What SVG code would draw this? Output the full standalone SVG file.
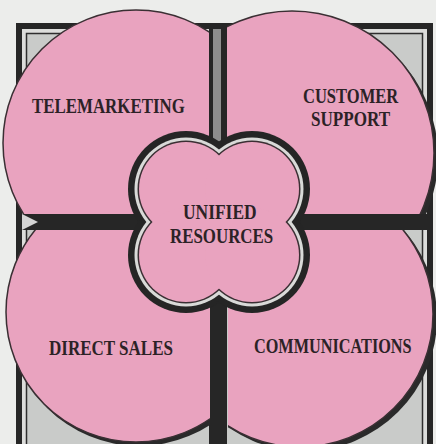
<svg xmlns="http://www.w3.org/2000/svg" width="436" height="444" viewBox="0 0 436 444">
<defs>
<style>
.petal{fill:#e9a3bf;stroke:#3a2f33;stroke-width:1.5}
.shadow{fill:#2a2a2a}
.ring-dark{fill:#252525}
.ring-light{fill:#d9dad8}
.ring-line{fill:#3a2f33}
.core{fill:#e9a3bf}
.lbl{font-family:"Liberation Serif","Times New Roman",serif;font-weight:bold;font-size:21px;fill:#2c2226}
</style>
<clipPath id="cTL"><rect x="0" y="0" width="209" height="214"/></clipPath>
<clipPath id="cTR"><rect x="227" y="0" width="209" height="214"/></clipPath>
<clipPath id="cBL"><rect x="0" y="230" width="210" height="214"/></clipPath>
<clipPath id="cBR"><rect x="228" y="230" width="208" height="214"/></clipPath>
</defs>
<rect width="436" height="444" fill="#ecedeb"/>
<g id="frame">
<rect x="19" y="26" width="411" height="440" fill="#dcdddb" stroke="#262626" stroke-width="6"/>
<rect x="26.5" y="33.5" width="396" height="430" fill="#c9cbc9" stroke="#2e2e2e" stroke-width="1.5"/>
<rect x="209" y="23" width="18" height="430" fill="#262626"/>
<rect x="213" y="29" width="8" height="130" fill="#8e8e8e"/>
<rect x="16" y="214" width="417" height="16" fill="#262626"/>
<polygon points="22,214 38,222 22,230" fill="#d4d4d4"/>
</g>
<g id="connectors"/>
<g id="telemarketing">
<circle cx="139" cy="146" r="133" class="shadow" clip-path="url(#cTL)"/>
<circle cx="136" cy="143" r="133" class="petal" clip-path="url(#cTL)"/>
<text class="lbl" transform="translate(32,113) scale(0.8,1)" textLength="191" lengthAdjust="spacingAndGlyphs">TELEMARKETING</text>
</g>
<g id="customer-support">
<circle cx="296" cy="157" r="142" class="shadow" clip-path="url(#cTR)"/>
<circle cx="292" cy="153" r="142" class="petal" clip-path="url(#cTR)"/>
<text class="lbl" transform="translate(303,103) scale(0.8,1)" textLength="119" lengthAdjust="spacingAndGlyphs">CUSTOMER</text>
<text class="lbl" transform="translate(311,126) scale(0.8,1)" textLength="99" lengthAdjust="spacingAndGlyphs">SUPPORT</text>
</g>
<g id="direct-sales">
<circle cx="139" cy="316" r="130" class="shadow" clip-path="url(#cBL)"/>
<circle cx="136" cy="312" r="130" class="petal" clip-path="url(#cBL)"/>
<text class="lbl" transform="translate(49,355) scale(0.8,1)" textLength="155" lengthAdjust="spacingAndGlyphs">DIRECT SALES</text>
</g>
<g id="communications">
<circle cx="304" cy="318" r="133" class="shadow" clip-path="url(#cBR)"/>
<circle cx="300" cy="314" r="133" class="petal" clip-path="url(#cBR)"/>
<text class="lbl" transform="translate(254,353) scale(0.8,1)" textLength="197" lengthAdjust="spacingAndGlyphs">COMMUNICATIONS</text>
</g>
<g id="unified-resources">
<g class="ring-dark"><circle cx="186" cy="189" r="58"/><circle cx="252" cy="189" r="58"/><circle cx="186" cy="255" r="58"/><circle cx="252" cy="255" r="58"/></g>
<g class="ring-light"><circle cx="186" cy="189" r="51.5"/><circle cx="252" cy="189" r="51.5"/><circle cx="186" cy="255" r="51.5"/><circle cx="252" cy="255" r="51.5"/></g>
<g class="ring-line"><circle cx="186" cy="189" r="48.5"/><circle cx="252" cy="189" r="48.5"/><circle cx="186" cy="255" r="48.5"/><circle cx="252" cy="255" r="48.5"/></g>
<g class="core"><circle cx="186" cy="189" r="47"/><circle cx="252" cy="189" r="47"/><circle cx="186" cy="255" r="47"/><circle cx="252" cy="255" r="47"/></g>
<text class="lbl" transform="translate(183,219) scale(0.8,1)" textLength="92" lengthAdjust="spacingAndGlyphs">UNIFIED</text>
<text class="lbl" transform="translate(170,243) scale(0.8,1)" textLength="129" lengthAdjust="spacingAndGlyphs">RESOURCES</text>
</g>
</svg>
